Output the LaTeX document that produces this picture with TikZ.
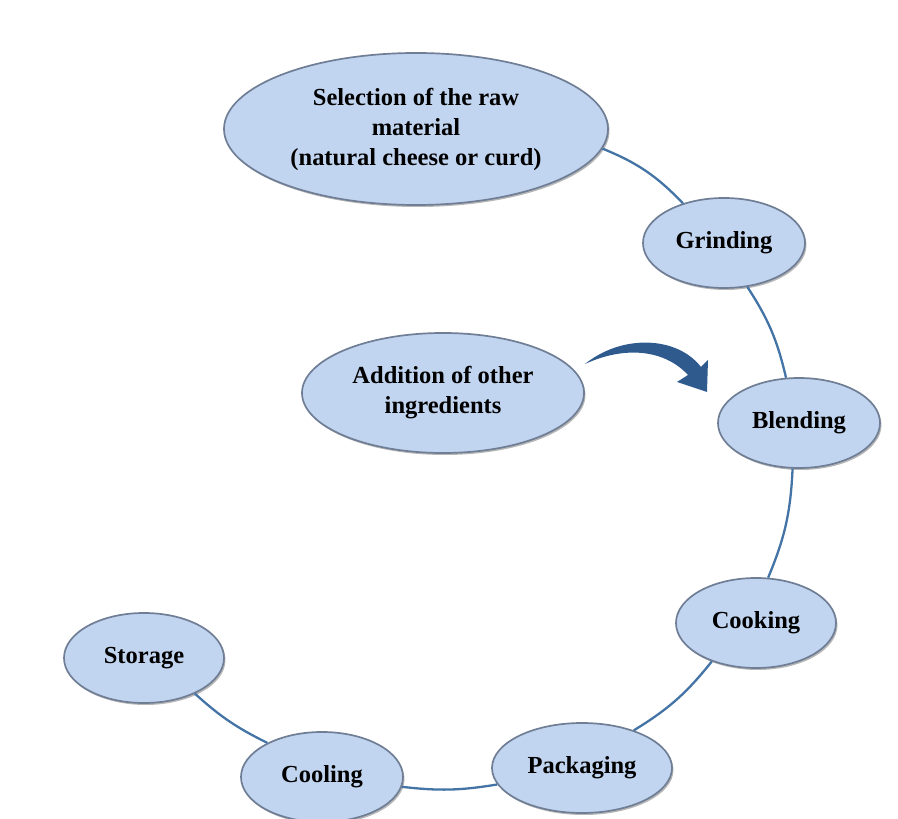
\documentclass[tikz,border=0pt]{standalone}
\usepackage{fontspec}
\setmainfont{Liberation Serif}
\usetikzlibrary{shapes.geometric,shadows}
\definecolor{ellfill}{HTML}{C2D5F0}
\definecolor{elldraw}{HTML}{6F7E95}
\definecolor{linkcol}{HTML}{4474A6}
\definecolor{arrowcol}{HTML}{2F5A8E}
\tikzset{
  stage/.style={ellipse, draw=elldraw, line width=1.7pt, fill=ellfill, inner sep=0pt,
    align=center, font=\fontsize{24.5}{30}\selectfont\bfseries,
    drop shadow={shadow xshift=1.5pt, shadow yshift=-2pt, opacity=0.4, fill=black!70}},
  link/.style={draw=linkcol, line width=2.3pt}
}
\begin{document}
\begin{tikzpicture}[x=1pt,y=1pt]
\useasboundingbox (0,0) rectangle (898,819);
\node[stage, minimum width=384pt, minimum height=152pt] (sel) at (416,690)
  {Selection of the raw\\material\\(natural cheese or curd)};
\node[stage, minimum width=162pt, minimum height=90pt] (grind) at (724,576) {Grinding};
\node[stage, minimum width=282pt, minimum height=120pt] (add) at (443,426) {Addition of other\\ingredients};
\node[stage, minimum width=162pt, minimum height=90pt] (blend) at (799,396) {Blending};
\node[stage, minimum width=160pt, minimum height=90pt] (cook) at (756,196) {Cooking};
\node[stage, minimum width=180pt, minimum height=90pt] (pack) at (582,51) {Packaging};
\node[stage, minimum width=162pt, minimum height=90pt] (cool) at (322,42) {Cooling};
\node[stage, minimum width=160pt, minimum height=90pt] (stor) at (144,161) {Storage};

\draw[link] (sel.-6.5) to[bend left=12] (grind.136);
\draw[link] (grind.-62) to[bend left=10] (blend.106);
\draw[link] (blend.-98) to[bend left=10] (cook.75);
\draw[link] (cook.-139) to[bend left=10] (pack.36);
\draw[link] (pack.-169) to[bend left=8] (cool.-7);
\draw[link] (cool.148) to[bend left=8] (stor.-35.5);

\coordinate (arrS) at (585,455);
\coordinate (arrT) at (707,427);
\fill[arrowcol] (arrS) .. controls (622,485) and (677,483) .. (701,452)
  -- (708,459) -- (arrT) -- (677,437) -- (688,444)
  .. controls (664,470) and (624,473) .. (arrS) -- cycle;
\end{tikzpicture}
\end{document}
